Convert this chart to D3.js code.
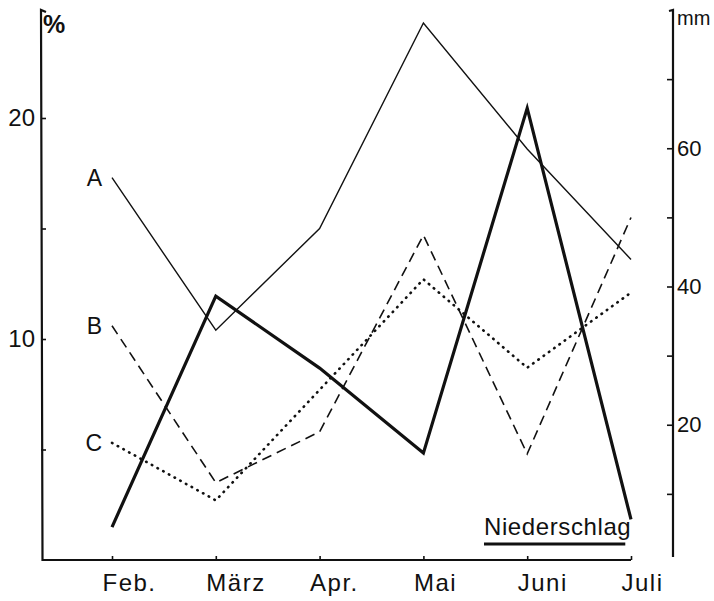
<!DOCTYPE html>
<html>
<head>
<meta charset="utf-8">
<script src="https://cdn.jsdelivr.net/npm/d3@7"></script>
<style>
  body { margin: 0; background: #fff; }
  text { font-family: "Liberation Sans", Arial, sans-serif; fill: #111; }
</style>
</head>
<body>
<div id="chart"></div>
<script>
// values
const months = ["Feb.", "März", "Apr.", "Mai", "Juni", "Juli"];
const seriesA = [17.3, 10.4, 15.0, 24.3, 18.6, 13.6];   // %
const seriesB = [10.6, 3.5, 5.8, 14.7, 4.8, 15.5];      // %
const seriesC = [5.3, 2.7, 7.7, 12.7, 8.7, 12.1];       // %
const niederschlag = [5.2, 38.6, 28.2, 15.9, 65.8, 6.3]; // mm
const pctTicks = [5, 10, 15, 20];
const mmTicks = [10, 20, 30, 40, 50, 60, 70];
const seriesLabels = ["A", "B", "C"];

const width = 714, height = 601;
const axLeft = 41, axRight = 673, axBottom = 560, axTop = 10;

const svg = d3.select("#chart").append("svg")
    .attr("width", width)
    .attr("height", height);

const x = d3.scalePoint().domain(months).range([112, 631]);
const yL = d3.scaleLinear().domain([0, 25]).range([axBottom, 7.5]);
const yR = d3.scaleLinear().domain([0, 80]).range([563, 10]);

// left axis (%)
const gL = svg.append("g")
    .attr("transform", `translate(${axLeft},0)`)
    .call(d3.axisLeft(yL).tickValues(pctTicks)
        .tickSizeInner(-5).tickSizeOuter(0).tickPadding(6)
        .tickFormat(d => d % 10 === 0 ? d : ""));
gL.select(".domain").remove();
gL.selectAll("line").attr("stroke", "#111").attr("stroke-width", 1.6);
gL.selectAll("text").attr("font-size", 24).attr("font-family", "Liberation Sans").attr("fill", "#111");

// right axis (mm)
const gR = svg.append("g")
    .attr("transform", `translate(${axRight},0)`)
    .call(d3.axisRight(yR).tickValues(mmTicks)
        .tickSizeInner(-6).tickSizeOuter(0).tickPadding(4)
        .tickFormat(d => d % 20 === 0 ? d : ""));
gR.select(".domain").remove();
gR.selectAll("line").attr("stroke", "#111").attr("stroke-width", 1.6);
gR.selectAll("text").attr("font-size", 22).attr("font-family", "Liberation Sans").attr("fill", "#111");

// bottom axis (months), labels sit a little right of their ticks
const gB = svg.append("g")
    .attr("transform", `translate(0,${axBottom})`)
    .call(d3.axisBottom(x).tickSizeInner(-4).tickSizeOuter(0).tickPadding(14));
gB.select(".domain").remove();
gB.selectAll("line").attr("stroke", "#111").attr("stroke-width", 1.6);
gB.selectAll("text").attr("font-size", 24).attr("font-family", "Liberation Sans")
    .attr("letter-spacing", 1.5).attr("fill", "#111")
    .attr("text-anchor", "start").attr("x", -10);

// axis lines, drawn by hand like the original
const axisPath = svg.append("g")
    .attr("fill", "none")
    .attr("stroke", "#111")
    .attr("stroke-width", 2.2);
axisPath.append("path").attr("d", `M${axLeft + 5},${axTop + 2}L${axLeft},${axTop}L${axLeft + 1.5},${axBottom}L${x("Juli")},${axBottom}`);
axisPath.append("path").attr("d", `M${axRight - 4},${axTop + 1}L${axRight},${axTop}L${axRight},${axBottom - 3}`);

// unit labels
svg.append("text").attr("x", 43).attr("y", 33).attr("font-size", 25).attr("font-weight", "bold").text("%");
svg.append("text").attr("x", 677).attr("y", 25).attr("font-size", 20).text("mm");

// series lines
const lineL = d3.line().x((d, i) => x(months[i])).y(d => yL(d));
const lineR = d3.line().x((d, i) => x(months[i])).y(d => yR(d));

svg.append("path").datum(seriesA)
    .attr("d", lineL).attr("fill", "none")
    .attr("stroke", "#111").attr("stroke-width", 1.4);

svg.append("path").datum(seriesB)
    .attr("d", lineL).attr("fill", "none")
    .attr("stroke", "#111").attr("stroke-width", 1.6)
    .attr("stroke-dasharray", "10,6");

svg.append("path").datum(seriesC)
    .attr("d", lineL).attr("fill", "none")
    .attr("stroke", "#111").attr("stroke-width", 2.6)
    .attr("stroke-linecap", "round")
    .attr("stroke-dasharray", "0.5,6");

svg.append("path").datum(niederschlag)
    .attr("d", lineR).attr("fill", "none")
    .attr("stroke", "#111").attr("stroke-width", 3.2)
    .attr("stroke-linejoin", "miter");

// series labels A, B, C next to the first point
[seriesA, seriesB, seriesC].forEach((s, i) => {
  svg.append("text")
      .attr("x", x(months[0]) - 10)
      .attr("y", yL(s[0]) + 8)
      .attr("text-anchor", "end")
      .attr("font-size", 23)
      .text(seriesLabels[i]);
});

// Niederschlag label, underlined
const nLabel = svg.append("text")
    .attr("x", 484).attr("y", 535)
    .attr("font-size", 24)
    .attr("letter-spacing", 0.6)
    .text("Niederschlag");
const bb = nLabel.node().getBBox();
svg.append("line")
    .attr("x1", bb.x).attr("x2", bb.x + bb.width - 6)
    .attr("y1", 544).attr("y2", 544)
    .attr("stroke", "#111").attr("stroke-width", 3);
</script>
</body>
</html>
